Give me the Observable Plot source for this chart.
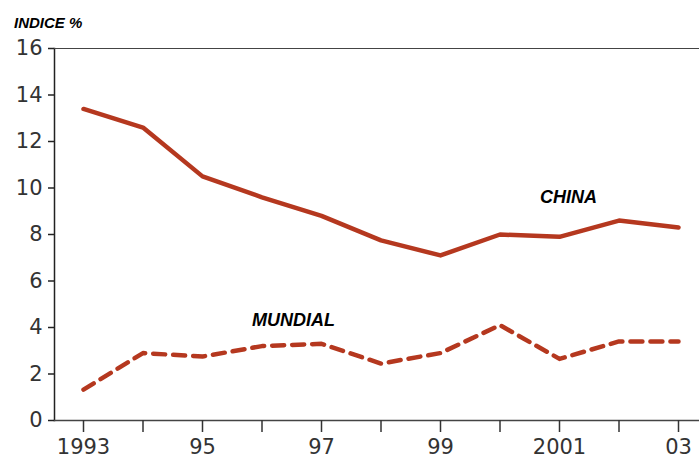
<!DOCTYPE html>
<html>
<head>
<meta charset="utf-8">
<script src="https://cdn.jsdelivr.net/npm/d3@7"></script>
<script src="https://cdn.jsdelivr.net/npm/@observablehq/plot@0.6"></script>
<style>
  body { margin: 0; background: #fff; font-family: "Liberation Sans", Arial, sans-serif; }
  #title { height: 30px; box-sizing: border-box; padding: 15px 0 0 14px; font-size: 15px; line-height: 15px; font-weight: bold; font-style: italic; color: #000; }
</style>
</head>
<body>
<div id="title">INDICE %</div>
<div id="chart"></div>
<script>
const years = [1993, 1994, 1995, 1996, 1997, 1998, 1999, 2000, 2001, 2002, 2003];
const china = [13.4, 12.6, 10.5, 9.6, 8.8, 7.75, 7.1, 8.0, 7.9, 8.6, 8.3];
const mundial = [1.33, 2.9, 2.75, 3.2, 3.3, 2.45, 2.9, 4.1, 2.65, 3.4, 3.4];
const yTicks = [0, 2, 4, 6, 8, 10, 12, 14, 16];
const xTickLabels = {1993: "1993", 1995: "95", 1997: "97", 1999: "99", 2001: "2001", 2003: "03"};
const seriesLabels = ["CHINA", "MUNDIAL"];

const lineColor = "#b5381f";
const chinaData = years.map((x, i) => ({x, y: china[i]}));
const mundialData = years.map((x, i) => ({x, y: mundial[i]}));
const tickFont = "DejaVu Sans, sans-serif";

const plot = Plot.plot({
  width: 699,
  height: 430,
  marginLeft: 54,
  marginRight: 0,
  marginTop: 18,
  marginBottom: 40,
  style: {fontFamily: "Liberation Sans, Arial, sans-serif", color: "#333", background: "#fff"},
  x: {domain: [1993, 2003], range: [83, 678]},
  y: {domain: [0, 16]},
  marks: [
    Plot.frame({anchor: "left", stroke: "#222", strokeWidth: 1.5}),
    Plot.frame({anchor: "top", stroke: "#444", strokeWidth: 1.2}),
    Plot.frame({anchor: "bottom", stroke: "#444", strokeWidth: 1.5}),
    Plot.axisY({ticks: yTicks, tickSize: 6, tickPadding: 6, fontSize: 21, fontFamily: tickFont, label: null, stroke: "#222", strokeWidth: 1.5}),
    Plot.axisX({ticks: years, tickSize: 12, tickPadding: 7, fontSize: 21, fontFamily: tickFont, label: null, stroke: "#333", strokeWidth: 1.5,
      tickFormat: d => xTickLabels[d] ?? ""}),
    Plot.line(chinaData, {x: "x", y: "y", stroke: lineColor, strokeWidth: 4.5, strokeLinejoin: "round"}),
    Plot.line(mundialData, {x: "x", y: "y", stroke: lineColor, strokeWidth: 4.5, strokeDasharray: "12,8"}),
    Plot.text([{x: 2001.15, y: 9.6, t: seriesLabels[0]}, {x: 1996.53, y: 4.3, t: seriesLabels[1]}],
      {x: "x", y: "y", text: "t", fontSize: 18, fontWeight: "bold", fontStyle: "italic", fill: "#000"})
  ]
});
document.getElementById("chart").appendChild(plot);
</script>
</body>
</html>
